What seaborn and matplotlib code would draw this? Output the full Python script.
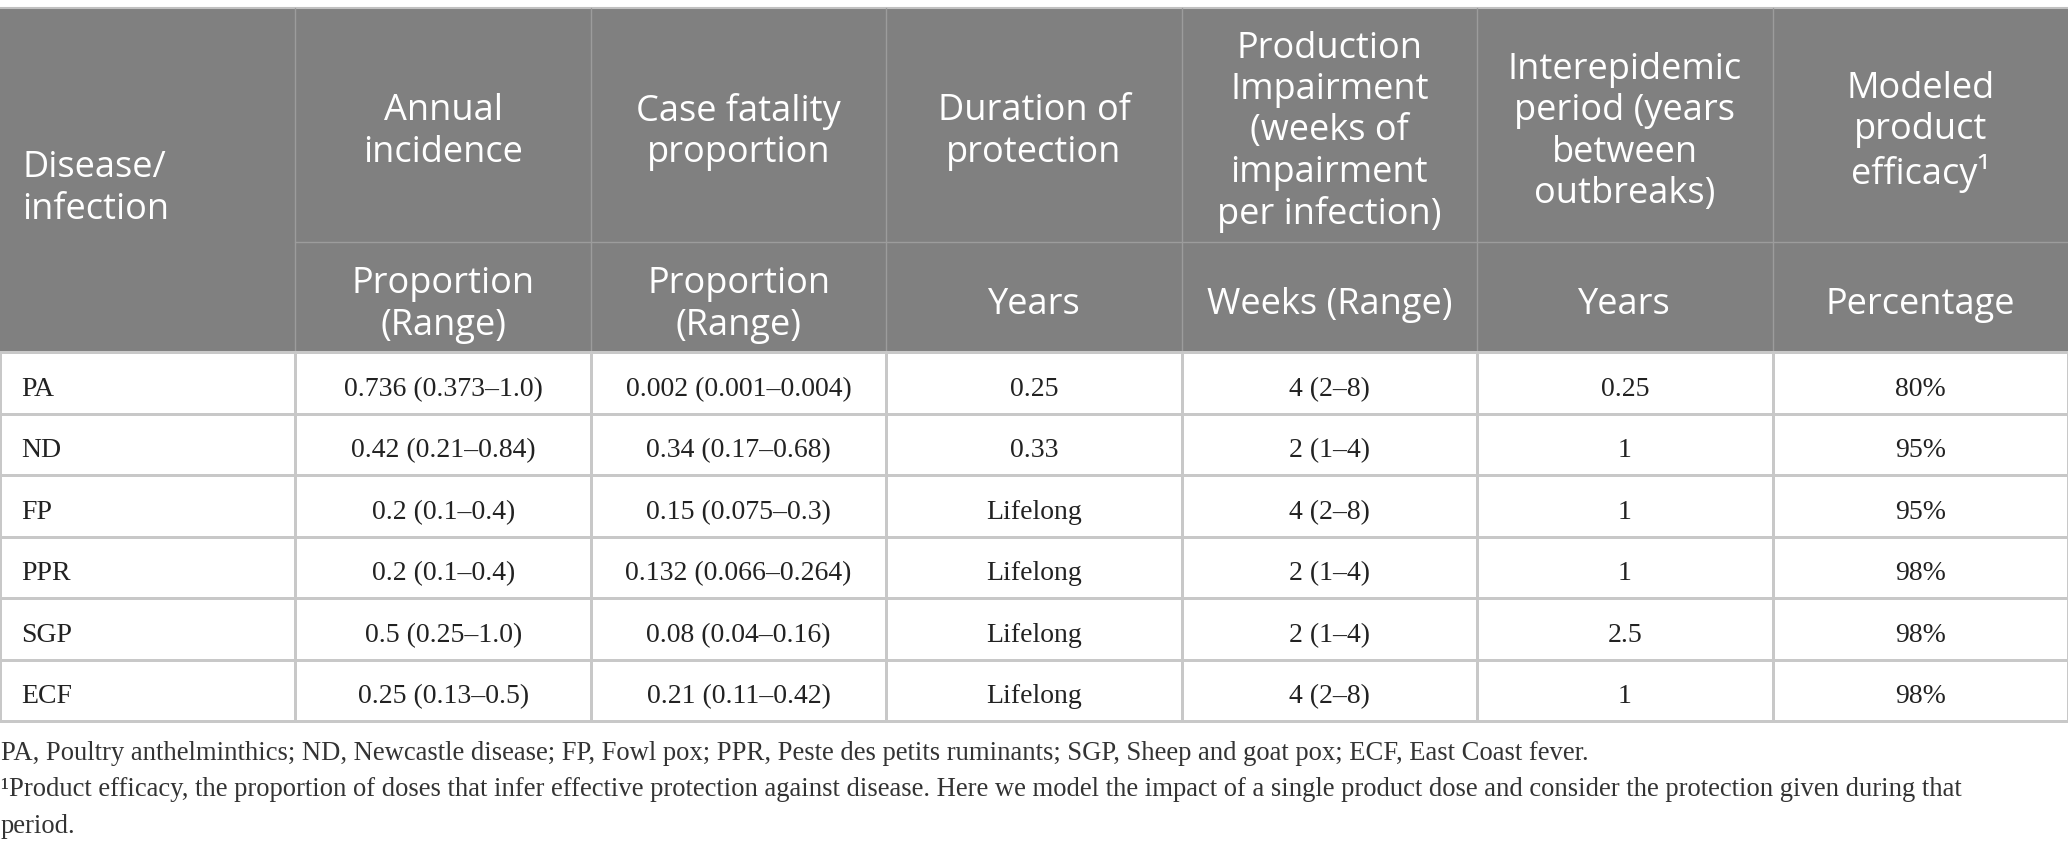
import numpy as np
import matplotlib
matplotlib.use("Agg")
import matplotlib.pyplot as plt
from matplotlib.colors import ListedColormap
from matplotlib.patches import Rectangle
import seaborn as sns

# table content
diseases = ["PA", "ND", "FP", "PPR", "SGP", "ECF"]
annual_incidence = ["0.736 (0.373–1.0)", "0.42 (0.21–0.84)", "0.2 (0.1–0.4)",
                    "0.2 (0.1–0.4)", "0.5 (0.25–1.0)", "0.25 (0.13–0.5)"]
case_fatality = ["0.002 (0.001–0.004)", "0.34 (0.17–0.68)", "0.15 (0.075–0.3)",
                 "0.132 (0.066–0.264)", "0.08 (0.04–0.16)", "0.21 (0.11–0.42)"]
protection = ["0.25", "0.33", "Lifelong", "Lifelong", "Lifelong", "Lifelong"]
impairment = ["4 (2–8)", "2 (1–4)", "4 (2–8)", "2 (1–4)", "2 (1–4)", "4 (2–8)"]
interepidemic = ["0.25", "1", "1", "1", "2.5", "1"]
efficacy = ["80%", "95%", "95%", "98%", "98%", "98%"]

head_top = ["Disease/\ninfection", "Annual\nincidence", "Case fatality\nproportion",
            "Duration of\nprotection",
            "Production\nImpairment\n(weeks of\nimpairment\nper infection)",
            "Interepidemic\nperiod (years\nbetween\noutbreaks)",
            "Modeled\nproduct\nefficacy¹"]
head_unit = ["Proportion\n(Range)", "Proportion\n(Range)", "Years",
             "Weeks (Range)", "Years", "Percentage"]

notes = ["PA, Poultry anthelminthics; ND, Newcastle disease; FP, Fowl pox; PPR, Peste des "
         "petits ruminants; SGP, Sheep and goat pox; ECF, East Coast fever.",
         "¹Product efficacy, the proportion of doses that infer effective protection against "
         "disease. Here we model the impact of a single product dose and consider the "
         "protection given during that",
         "period."]

W, H = 2068, 853
sns.set_theme(style="white")
plt.rcParams["font.family"] = ["DejaVu Sans"]

fig = plt.figure(figsize=(W / 100, H / 100), dpi=100)
ax = fig.add_axes([0, 0, 1, 1])
ax.set_xlim(0, W)
ax.set_ylim(H, 0)
ax.axis("off")

ncol = 7
cw = W / ncol
top, mid, hbot, bbot = 9, 243, 353, 722
head_bg = "#808080"
head_line = "#9c9c9c"
grid = "#c8c8c8"
sans = "Open Sans"
serif = "Liberation Serif"

# header block
ax.add_patch(Rectangle((0, top), W, hbot - top, color=head_bg, lw=0))
ax.plot([0, W], [top, top], color="#c0c0c0", lw=1.5)
ax.plot([cw, W], [mid, mid], color=head_line, lw=1.0)
for j in range(1, ncol):
    ax.plot([j * cw, j * cw], [top, hbot], color=head_line, lw=1.0)

ax.text(22, (top + hbot) / 2 + 8, head_top[0], color="white", fontsize=26, family=sans,
        ha="left", va="center", linespacing=1.2)
for j in range(1, ncol):
    xc = (j + 0.5) * cw
    ax.text(xc, (top + mid) / 2 + 6, head_top[j], color="white", fontsize=26, family=sans,
            ha="center", va="center", linespacing=1.2)
    ax.text(xc, (mid + hbot) / 2 + 7, head_unit[j - 1], color="white", fontsize=26,
            family=sans, ha="center", va="center", linespacing=1.2)

# body cells drawn as a heatmap grid
body = [diseases, annual_incidence, case_fatality, protection, impairment,
        interepidemic, efficacy]
bx = fig.add_axes([0, 1 - bbot / H, 1, (bbot - hbot) / H])
sns.heatmap(np.zeros((len(diseases), ncol)), ax=bx, cmap=ListedColormap(["white"]),
            cbar=False, linewidths=1.0, linecolor=grid, xticklabels=False,
            yticklabels=False)
for c in bx.collections:
    c.set_clip_on(False)
bx.axvline(0, color=grid, lw=2)
bx.axvline(ncol, color=grid, lw=2)
bx.axhline(len(diseases), color=grid, lw=2)

rh = (bbot - hbot) / len(diseases)
for i in range(len(diseases)):
    yb = i + 0.5 + 12 / rh
    bx.text(21 / cw, yb, body[0][i], fontsize=20, family=serif, color="#222222",
            ha="left", va="baseline")
    for j in range(1, ncol):
        bx.text(j + 0.5, yb, body[j][i], fontsize=20, family=serif, color="#222222",
                ha="center", va="baseline")

# footnotes
for yy, line in zip([753, 790, 827], notes):
    ax.text(1, yy, line, fontsize=19.2, family=serif, color="#333333",
            ha="left", va="center")

fig.savefig("out.png", dpi=100, facecolor="white")
